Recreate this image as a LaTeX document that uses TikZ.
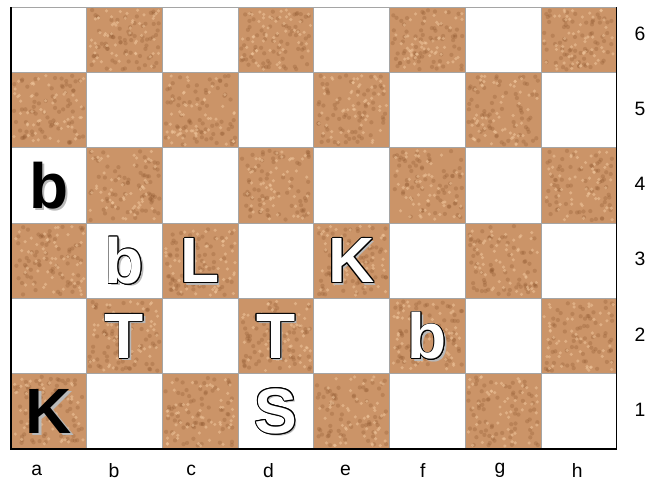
\documentclass[tikz,border=0pt]{standalone}
\usepackage{fontspec}
\setmainfont{Liberation Sans}
\usetikzlibrary{positioning}

\definecolor{cork}{RGB}{203,148,104}
\definecolor{corkdark}{RGB}{135,80,40}
\definecolor{corklight}{RGB}{240,198,156}
\definecolor{gridgrey}{RGB}{165,165,165}
\definecolor{shadowgrey}{RGB}{185,185,185}

% white piece: outlined letter with a grey shadow
\newcommand{\whitepiece}[3]{%
  \node[piece,text=shadowgrey,shift={(1.7pt,-1.7pt)}] at (#2) {#3};
  \foreach \a in {0,30,...,330}
    \node[piece,text=black,shift={(\a:0.7pt)}] at (#2) {#3};
  \node[piece,text=white] (#1) at (#2) {#3};
}
% black piece: filled letter with a grey shadow
\newcommand{\blackpiece}[3]{%
  \node[piece,text=shadowgrey,shift={(1.9pt,-1.9pt)}] at (#2) {#3};
  \node[piece,text=black] (#1) at (#2) {#3};
}

\begin{document}
\begin{tikzpicture}[
			x=56.78pt,
			y=56.48pt,
			piece/.style={
				inner sep=0pt,
				font=\bfseries\fontsize{48}{48}\selectfont
			},
			coordlabel/.style={
				inner sep=0pt,
				font=\fontsize{14.5}{17}\selectfont
			},
			frame/.style={
				line width=1.1pt,
				black
			}
			]
			
			\useasboundingbox (-0.145,-0.505) rectangle (8.388,5.963);
			\def\boardtop{5.87}
			\pgfmathsetseed{17}
			
			%%%%%%%%%%%%%%%%%%%%%%%%%%%%%%%%%%%%%%%%%%%%%%%%%%%%%%%%%%%%
			% Squares
			%%%%%%%%%%%%%%%%%%%%%%%%%%%%%%%%%%%%%%%%%%%%%%%%%%%%%%%%%%%%
			
			\foreach \i in {1,...,8}
			\foreach \j in {1,...,6}{
				\pgfmathsetmacro{\sqtop}{min(\j,\boardtop)}
				\pgfmathsetmacro{\sqh}{\sqtop-\j+1-0.08}
				\pgfmathtruncatemacro{\dark}{mod(\i+\j,2)==0}
				\ifnum\dark=1
				\fill[cork] (\i-1,\j-1) rectangle (\i,\sqtop);
				\foreach \k in {1,...,70}
				\fill[corkdark,opacity=.25] ({\i-0.96+0.92*rnd},{\j-0.96+\sqh*rnd}) circle (1.6pt);
				\foreach \k in {1,...,55}
				\fill[corklight,opacity=.55] ({\i-0.96+0.92*rnd},{\j-0.96+\sqh*rnd}) circle (1.3pt);
				\fi
				\draw[gridgrey,line width=0.6pt] (\i-1,\j-1) rectangle (\i,\sqtop);
			}
			
			% frame
			
			\draw[frame] (0,\boardtop) -- (0,0) -- (8,0) -- (8,\boardtop);
			
			%%%%%%%%%%%%%%%%%%%%%%%%%%%%%%%%%%%%%%%%%%%%%%%%%%%%%%%%%%%%
			% Labels
			%%%%%%%%%%%%%%%%%%%%%%%%%%%%%%%%%%%%%%%%%%%%%%%%%%%%%%%%%%%%
			
			\foreach \c [count=\i] in {a,b,c,d,e,f,g,h}{
				\foreach \r in {1,...,6}
				\coordinate (\c\r) at (\i-0.5,\r-0.5);
				\node[coordlabel] (file\c) at ({0.34+1.02*(\i-1)},-0.28) {\c};
			}
			
			\foreach \r in {1,...,6}
			\node[coordlabel] (rank\r) at (8.31,\r-0.48) {\r};
			
			%%%%%%%%%%%%%%%%%%%%%%%%%%%%%%%%%%%%%%%%%%%%%%%%%%%%%%%%%%%%
			% Pieces
			%%%%%%%%%%%%%%%%%%%%%%%%%%%%%%%%%%%%%%%%%%%%%%%%%%%%%%%%%%%%
			
			\blackpiece{bb}{a4}{b}
			\blackpiece{bk}{a1}{K}
			
			\whitepiece{wba}{b3}{b}
			\whitepiece{wl}{c3}{L}
			\whitepiece{wk}{e3}{K}
			\whitepiece{wta}{b2}{T}
			\whitepiece{wtb}{d2}{T}
			\whitepiece{wbb}{f2}{b}
			\whitepiece{ws}{d1}{S}
			
			%%%%%%%%%%%%%%%%%%%%%%%%%%%%%%%%%%%%%%%%%%%%%%%%%%%%%%%%%%%%
			
		\end{tikzpicture}
\end{document}
